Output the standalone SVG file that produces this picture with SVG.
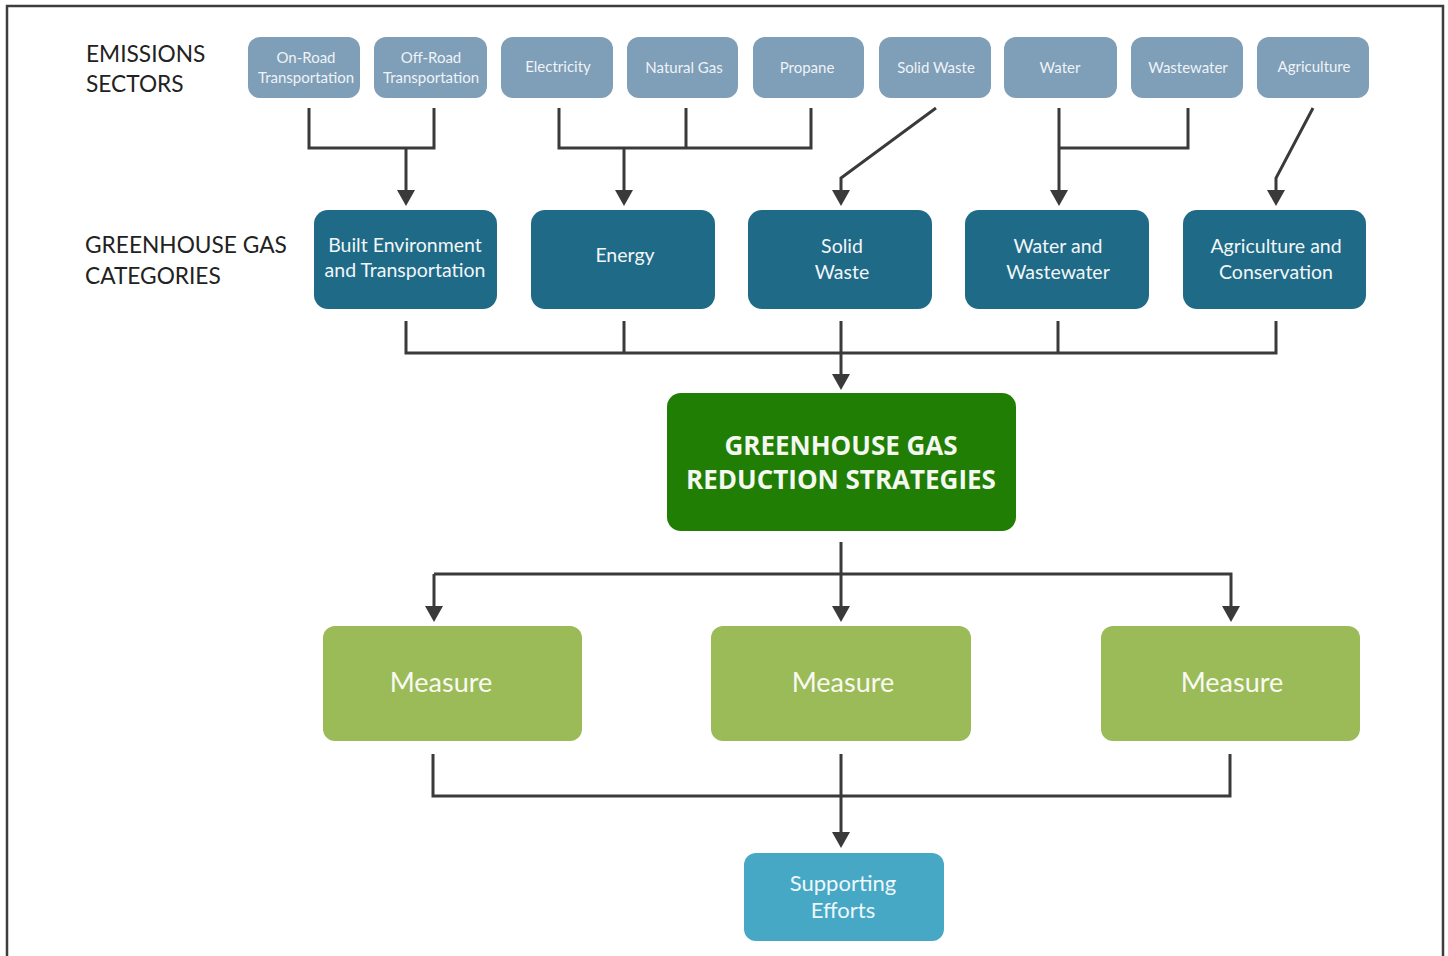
<svg xmlns="http://www.w3.org/2000/svg" width="1448" height="956" viewBox="0 0 1448 956">
<style>
.lbl{font-family:Lato,"Open Sans",sans-serif;font-size:22.7px;fill:#222}
.sec rect{fill:#7f9eb7}
.sec text{font-family:Lato,"Open Sans",sans-serif;font-size:15px;fill:#eef3f7;text-anchor:middle}
.cat rect{fill:#1e6a87}
.cat text{font-family:Lato,"Open Sans",sans-serif;font-size:19.5px;fill:#f2f6f8;text-anchor:middle}
.strat rect{fill:#217e05}
.strat text{font-family:"Open Sans",Lato,sans-serif;font-weight:bold;font-size:26px;fill:#f4f8f0;text-anchor:middle}
.meas rect{fill:#9bbb59}
.meas text{font-family:Lato,"Open Sans",sans-serif;font-size:27px;fill:#f8faf2;text-anchor:middle}
.sup rect{fill:#47a8c6}
.sup text{font-family:Lato,"Open Sans",sans-serif;font-size:22px;fill:#eef7fa;text-anchor:middle}
.conn path{fill:none;stroke:#3a3a3a;stroke-width:3}
</style>
<defs>
<marker id="ah" markerUnits="userSpaceOnUse" viewBox="0 0 16 18" refX="6" refY="9" markerWidth="16" markerHeight="18" orient="auto">
<path d="M0,0 L16,9 L0,18 z" fill="#3a3a3a"/>
</marker>
</defs>
<rect x="0" y="0" width="1448" height="956" fill="#fff"/>
<path d="M7,956 V6 H1443 V956" fill="none" stroke="#3d3d3d" stroke-width="2.5"/>

<g id="label-sectors"><text class="lbl" x="86" y="62">EMISSIONS</text><text class="lbl" x="86" y="92">SECTORS</text></g>
<g id="label-categories"><text class="lbl" x="85" y="253">GREENHOUSE GAS</text><text class="lbl" x="85" y="284">CATEGORIES</text></g>

<g id="s-onroad" class="sec"><rect x="248" y="37" width="112" height="61" rx="12"/><text x="306" y="63">On-Road</text><text x="306" y="83">Transportation</text></g>
<g id="s-offroad" class="sec"><rect x="374" y="37" width="113" height="61" rx="12"/><text x="431" y="63">Off-Road</text><text x="431" y="83">Transportation</text></g>
<g id="s-electricity" class="sec"><rect x="501" y="37" width="112" height="61" rx="12"/><text x="558" y="72">Electricity</text></g>
<g id="s-naturalgas" class="sec"><rect x="627" y="37" width="111" height="61" rx="12"/><text x="684" y="73">Natural Gas</text></g>
<g id="s-propane" class="sec"><rect x="753" y="37" width="111" height="61" rx="12"/><text x="807" y="73">Propane</text></g>
<g id="s-solidwaste" class="sec"><rect x="879" y="37" width="112" height="61" rx="12"/><text x="936" y="73">Solid Waste</text></g>
<g id="s-water" class="sec"><rect x="1004" y="37" width="113" height="61" rx="12"/><text x="1060" y="73">Water</text></g>
<g id="s-wastewater" class="sec"><rect x="1131" y="37" width="112" height="61" rx="12"/><text x="1188" y="73">Wastewater</text></g>
<g id="s-agriculture" class="sec"><rect x="1257" y="37" width="112" height="61" rx="12"/><text x="1314" y="72">Agriculture</text></g>

<g id="c-built" class="cat"><rect x="314" y="210" width="183" height="99" rx="14"/><text x="405" y="252">Built Environment</text><text x="405" y="277">and Transportation</text></g>
<g id="c-energy" class="cat"><rect x="531" y="210" width="184" height="99" rx="14"/><text x="625" y="262">Energy</text></g>
<g id="c-solidwaste" class="cat"><rect x="748" y="210" width="184" height="99" rx="14"/><text x="842" y="253">Solid</text><text x="842" y="279">Waste</text></g>
<g id="c-water" class="cat"><rect x="965" y="210" width="184" height="99" rx="14"/><text x="1058" y="253">Water and</text><text x="1058" y="279">Wastewater</text></g>
<g id="c-agriculture" class="cat"><rect x="1183" y="210" width="183" height="99" rx="14"/><text x="1276" y="253">Agriculture and</text><text x="1276" y="279">Conservation</text></g>

<g id="strategies" class="strat"><rect x="667" y="393" width="349" height="138" rx="14"/><text x="841" y="455">GREENHOUSE GAS</text><text x="841" y="489">REDUCTION STRATEGIES</text></g>

<g id="measure-1" class="meas"><rect x="323" y="626" width="259" height="115" rx="12"/><text x="441" y="692">Measure</text></g>
<g id="measure-2" class="meas"><rect x="711" y="626" width="260" height="115" rx="12"/><text x="843" y="692">Measure</text></g>
<g id="measure-3" class="meas"><rect x="1101" y="626" width="259" height="115" rx="12"/><text x="1232" y="692">Measure</text></g>

<g id="supporting" class="sup"><rect x="744" y="853" width="200" height="88" rx="12"/><text x="843" y="891">Supporting</text><text x="843" y="918">Efforts</text></g>

<g id="connectors" class="conn">
<path d="M309,108 V148 H434 V108"/>
<path d="M406,148 V196" marker-end="url(#ah)"/>
<path d="M559,108 V148 H811 V108 M686,108 V148"/>
<path d="M624,148 V196" marker-end="url(#ah)"/>
<path d="M936,108 L841,178 V196" marker-end="url(#ah)"/>
<path d="M1188,108 V148 H1059"/>
<path d="M1059,108 V196" marker-end="url(#ah)"/>
<path d="M1313,108 L1276,178 V196" marker-end="url(#ah)"/>
<path d="M406,321 V353 H1276 V321 M624,321 V353 M1058,321 V353"/>
<path d="M841,321 V380" marker-end="url(#ah)"/>
<path d="M841,542 V612" marker-end="url(#ah)"/>
<path d="M434,574 H1231 V612" marker-end="url(#ah)"/>
<path d="M434,574 V612" marker-end="url(#ah)"/>
<path d="M433,754 V796 H1230 V754"/>
<path d="M841,754 V838" marker-end="url(#ah)"/>
</g>
</svg>
